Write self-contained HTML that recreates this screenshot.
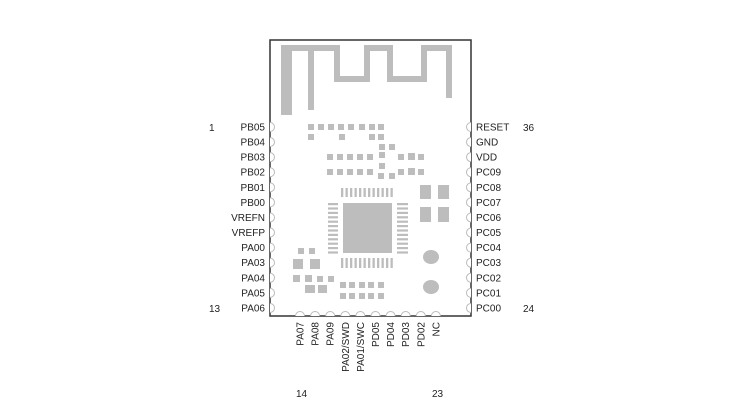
<!DOCTYPE html><html><head><style>body{margin:0;background:#fff}svg{display:block}text{font-family:"Liberation Sans",sans-serif;font-size:10px;fill:#222}</style></head><body>
<svg width="750" height="414" viewBox="0 0 750 414">
<g fill="#bdbdbd">
<rect x="281" y="45" width="11" height="70"/>
<path d="M286,115 V48 H337 V79 H367 V48 H390 V79 H424 V48 H449 V98 M311,48 V110" fill="none" stroke="#bdbdbd" stroke-width="6"/>
<g id="r1"><rect x="308" y="124" width="6" height="6"/><rect x="318" y="124" width="6" height="6"/><rect x="328" y="124" width="6" height="6"/><rect x="338" y="124" width="6" height="6"/><rect x="348" y="124" width="6" height="6"/><rect x="359" y="124" width="6" height="6"/><rect x="369" y="124" width="6" height="6"/><rect x="378" y="124" width="6" height="6"/></g>
<rect x="308" y="134" width="6" height="6"/><rect x="339" y="134" width="6" height="6"/><rect x="369" y="134" width="6" height="6"/><rect x="378" y="134" width="6" height="6"/>
<rect x="379" y="144" width="6" height="6"/><rect x="389" y="144" width="6" height="6"/>
<rect x="327" y="154" width="6" height="6"/><rect x="337" y="154" width="6" height="6"/><rect x="347" y="154" width="6" height="6"/><rect x="357" y="154" width="6" height="6"/><rect x="367" y="154" width="6" height="6"/><rect x="379" y="152" width="6" height="6"/><rect x="398" y="154" width="6" height="6"/><rect x="408" y="153" width="7" height="7"/><rect x="418" y="154" width="6" height="6"/>
<rect x="327" y="169" width="6" height="6"/><rect x="337" y="169" width="6" height="6"/><rect x="347" y="169" width="6" height="6"/><rect x="357" y="169" width="6" height="6"/><rect x="367" y="169" width="6" height="6"/><rect x="379" y="163" width="6" height="6"/><rect x="398" y="169" width="6" height="6"/><rect x="408" y="168" width="7" height="7"/><rect x="418" y="169" width="6" height="6"/>
<rect x="378" y="173" width="6" height="6"/><rect x="389" y="173" width="6" height="6"/>
<rect x="343" y="203" width="49" height="50"/>
<g id="tp"></g>
<rect x="420" y="185" width="11" height="14"/><rect x="438" y="185" width="11" height="14"/><rect x="420" y="207" width="11" height="15"/><rect x="438" y="207" width="11" height="15"/>
<ellipse cx="431" cy="257" rx="8" ry="7"/><ellipse cx="431" cy="287" rx="8" ry="7"/>
<rect x="298" y="248" width="6" height="6"/><rect x="309" y="248" width="6" height="6"/>
<rect x="293" y="259" width="10" height="10"/><rect x="310" y="259" width="10" height="10"/>
<rect x="293" y="275" width="7" height="7"/><rect x="305" y="275" width="7" height="7"/><rect x="317" y="276" width="6" height="6"/><rect x="328" y="276" width="6" height="6"/>
<rect x="305" y="285" width="10" height="8"/><rect x="318" y="285" width="9" height="8"/>
<rect x="340" y="282" width="6" height="6"/><rect x="349" y="282" width="6" height="6"/><rect x="359" y="282" width="6" height="6"/><rect x="368" y="282" width="6" height="6"/><rect x="378" y="282" width="6" height="6"/>
<rect x="340" y="293" width="6" height="6"/><rect x="349" y="293" width="6" height="6"/><rect x="359" y="293" width="6" height="6"/><rect x="368" y="293" width="6" height="6"/><rect x="378" y="293" width="6" height="6"/>
</g>
<g fill="#bdbdbd" id="qfn"></g>
<path d="M270,40 H471 V316 H270 Z" fill="none" stroke="#333" stroke-width="1.5"/>
<g id="pins" fill="#fff" stroke="#bbb" stroke-width="1"></g>
<g id="txt"></g>
<text x="209" y="131">1</text><text x="209" y="312">13</text><text x="523" y="131">36</text><text x="523" y="312">24</text>
<text x="296" y="397">14</text><text x="432" y="397">23</text>
</svg>
<script>
var ns="http://www.w3.org/2000/svg",q=document.getElementById('qfn'),p=document.getElementById('pins'),t=document.getElementById('txt');
function el(par,n,a,tx){var e=document.createElementNS(ns,n);for(var k in a)e.setAttribute(k,a[k]);if(tx)e.textContent=tx;par.appendChild(e);}
for(var i=0;i<12;i++){var x=341+i*4.5;el(q,'rect',{x:x,y:188,width:2.3,height:9});el(q,'rect',{x:x,y:258,width:2.3,height:10});var y=203+i*4.4;el(q,'rect',{x:328,y:y,width:10,height:2.2});el(q,'rect',{x:397,y:y,width:11,height:2.2});}
var L=["PB05","PB04","PB03","PB02","PB01","PB00","VREFN","VREFP","PA00","PA03","PA04","PA05","PA06"],R=["RESET","GND","VDD","PC09","PC08","PC07","PC06","PC05","PC04","PC03","PC02","PC01","PC00"],B=["PA07","PA08","PA09","PA02/SWD","PA01/SWC","PD05","PD04","PD03","PD02","NC"];
for(var i=0;i<13;i++){var y=127+i*15.08;el(p,'path',{d:'M270,'+(y-4.5)+' A4.5,4.5 0 0 1 270,'+(y+4.5)});el(p,'path',{d:'M471,'+(y-4.5)+' A4.5,4.5 0 0 0 471,'+(y+4.5)});
el(t,'text',{x:265,y:y+3.5,'text-anchor':'end'},L[i]);el(t,'text',{x:476,y:y+3.5},R[i]);}
for(var i=0;i<10;i++){var x=300+i*15.1;el(p,'path',{d:'M'+(x-4.5)+',316 A4.5,4.5 0 0 1 '+(x+4.5)+',316'});
el(t,'text',{x:0,y:0,'text-anchor':'end',transform:'translate('+(x+3.5)+',322) rotate(-90)'},B[i]);}
</script>
</body></html>
